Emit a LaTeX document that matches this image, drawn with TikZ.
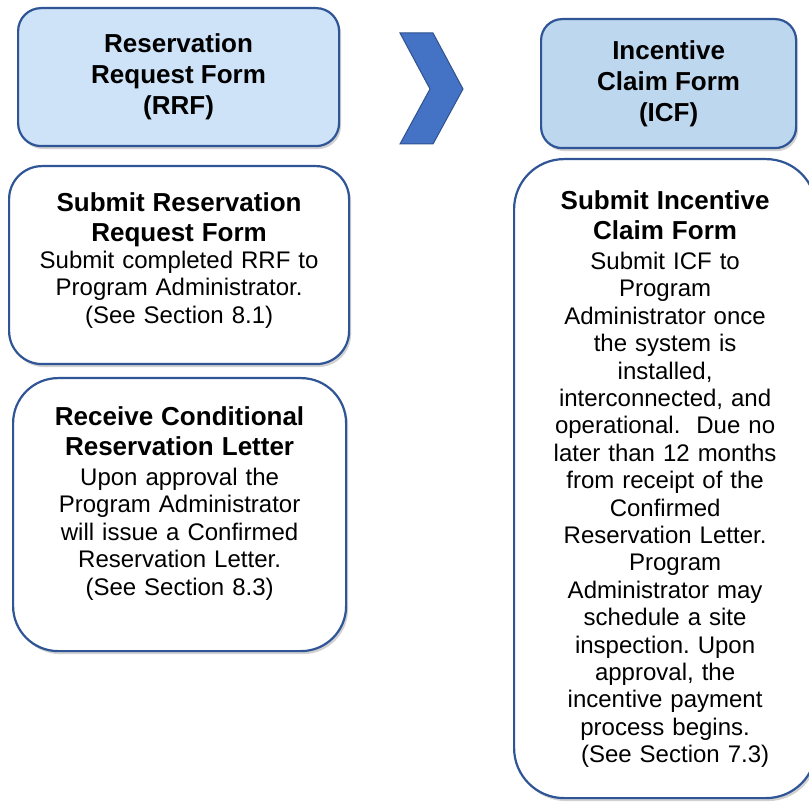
\documentclass[tikz,border=0pt]{standalone}
\usepackage{fontspec}
\setmainfont{Liberation Sans}
\usetikzlibrary{positioning,shadows}

\definecolor{boxline}{HTML}{2F5597}
\definecolor{rrffill}{HTML}{CFE3F8}
\definecolor{icffill}{HTML}{BDD7EE}
\definecolor{chevfill}{HTML}{4472C4}
\definecolor{chevline}{HTML}{2F528F}

\begin{document}
\begin{tikzpicture}
  [x=1pt,y=1pt,
   box/.style={rectangle,draw=boxline,line width=2.2pt,fill=white,anchor=north west,
     inner sep=0pt,drop shadow={shadow xshift=2pt,shadow yshift=-3pt,opacity=.3,fill=black!60}},
   head/.style={box,fill=rrffill,align=center,font=\bfseries\fontsize{26}{31}\selectfont},
   icf head/.style={head,fill=icffill},
   body/.style={anchor=north,inner sep=0pt,align=center,text width=310pt,
     font=\frenchspacing\fontsize{24}{27.4}\selectfont}]

  \useasboundingbox (0,0) rectangle (809,-802);

  % Left column: reservation
  \node [head,minimum width=321pt,minimum height=138pt,rounded corners=23pt]
        (rrf) at (17,-7) {Reservation\\ Request Form\\ (RRF)};
  \node [box,minimum width=340pt,minimum height=198pt,rounded corners=33pt]
        (submit) at (8,-165) {};
  \node [box,minimum width=333pt,minimum height=273pt,rounded corners=45pt]
        (receive) at (12,-377) {};

  \node [body] (submit text) [below=27pt of submit.north]
    {{\bfseries\fontsize{26}{30}\selectfont Submit Reservation\\ Request Form\par}
     Submit completed RRF to\\ Program Administrator.\\ (See Section 8.1)};
  \node [body] (receive text) [below=29pt of receive.north]
    {{\bfseries\fontsize{26}{30}\selectfont Receive Conditional\\ Reservation Letter\par}
     \vspace{3pt}Upon approval the\\ Program Administrator\\ will issue a Confirmed\\
     Reservation Letter.\\ (See Section 8.3)};

  % Chevron between the stages
  \draw [fill=chevfill,draw=chevline,line width=1pt]
    (400,-33) -- (433,-33) -- (463,-89) -- (433,-144) -- (400,-144) -- (430,-89) -- cycle;

  % Right column: incentive claim
  \node [icf head,minimum width=255pt,minimum height=129pt,rounded corners=21pt]
        (icf) at (540,-18) {Incentive\\ Claim Form\\ (ICF)};
  \node [box,minimum width=302pt,minimum height=639pt,rounded corners=50pt]
        (claim) at (513,-158) {};

  \node [body,text width=290pt] (claim text) [below=32pt of claim.north]
    {{\bfseries\fontsize{26}{30}\selectfont Submit Incentive\\ Claim Form\par}
     \vspace{3pt}Submit ICF to\\ Program\\ Administrator once\\ the system is\\ installed,\\
     interconnected, and\\ operational.\ \ Due no\\ later than 12 months\\ from receipt of the\\
     Confirmed\\ Reservation Letter.\\ \hspace*{20pt}Program\\ Administrator may\\
     schedule a site\\ inspection. Upon\\ approval, the\\ incentive payment\\
     process begins.\\ \hspace*{20pt}(See Section 7.3)};

\end{tikzpicture}
\end{document}
